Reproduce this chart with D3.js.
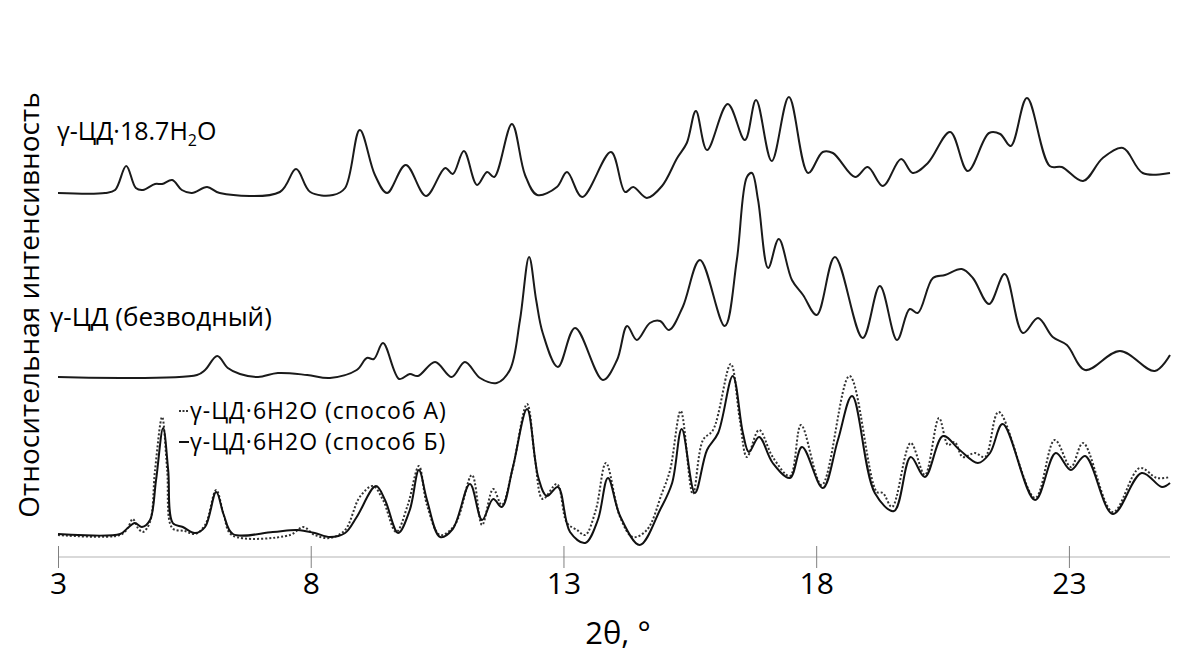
<!DOCTYPE html>
<html><head><meta charset="utf-8">
<script src="https://cdn.jsdelivr.net/npm/d3@7"></script>
<style>body{margin:0;background:#fff}svg{display:block}text{font-family:"Open Sans",sans-serif;fill:#000}</style>
</head><body><svg id="c" width="1189" height="666"></svg>
<script>
// 2θ ticks
const tickValues = [3, 8, 13, 18, 23];
const xLabel = "2θ, °";
const yLabel = "Относительная интенсивность";
const seriesNames = ["γ-ЦД·18.7H2O", "γ-ЦД (безводный)", "γ-ЦД·6H2O (способ А)", "γ-ЦД·6H2O (способ Б)"];

// [2θ, intensity (stacked, arb. units)]
const hydrate187 = [[3.00,364],[3.93,364],[4.13,367],[4.35,391],[4.54,369],[4.68,367],[4.92,373],[5.06,373],[5.26,377],[5.45,367],[5.65,364],[5.95,370],[6.20,364],[7.39,365],[7.71,388],[7.99,365],[8.44,362],[8.68,369],[8.97,427],[9.27,382],[9.51,364],[9.88,392],[10.28,361],[10.66,389],[10.81,383],[11.03,406],[11.29,372],[11.49,385],[11.63,380],[11.98,433],[12.24,382],[12.48,362],[12.87,370],[13.07,385],[13.37,360],[13.94,405],[14.22,365],[14.38,370],[14.65,359],[14.95,371],[15.25,399],[15.44,414],[15.62,446],[15.84,407],[16.25,453],[16.59,417],[16.81,457],[17.12,396],[17.46,460],[17.84,384],[18.13,405],[18.33,404],[18.77,380],[19.02,390],[19.32,371],[19.68,398],[19.91,384],[20.21,394],[20.65,425],[21.00,386],[21.42,424],[21.64,423],[21.85,411],[22.17,459],[22.62,391],[22.86,390],[23.28,376],[23.67,399],[24.07,409],[24.46,384],[25.00,384]];

const anhydrous = [[3.00,180],[5.75,182],[5.91,187],[6.15,201],[6.36,189],[6.60,183],[6.96,180],[7.35,184],[7.93,182],[8.38,179],[8.91,187],[9.11,199],[9.25,198],[9.43,214],[9.75,178],[9.96,183],[10.12,181],[10.46,195],[10.79,180],[11.05,195],[11.35,179],[11.68,174],[11.94,187],[12.14,237],[12.32,300],[12.46,257],[12.59,224],[12.89,190],[13.23,229],[13.78,177],[14.06,197],[14.26,231],[14.45,217],[14.71,234],[14.91,236],[15.09,227],[15.36,250],[15.70,297],[16.19,231],[16.43,297],[16.63,380],[16.73,384],[16.85,357],[17.05,289],[17.26,318],[17.52,277],[17.74,262],[18.01,242],[18.37,300],[18.92,219],[19.26,271],[19.60,217],[19.85,248],[20.01,244],[20.31,279],[20.55,282],[20.88,288],[21.10,279],[21.42,253],[21.73,283],[22.09,224],[22.39,239],[22.68,220],[22.96,212],[23.32,187],[24.01,206],[24.70,186],[25.00,202]];

const methodA = [[3.00,22],[4.23,22],[4.38,29],[4.48,38],[4.58,29],[4.68,25],[4.82,35],[4.92,87],[5.06,140],[5.16,87],[5.26,29],[5.51,26],[5.71,23],[5.91,32],[6.13,67],[6.28,42],[6.44,22],[7.59,22],[7.85,30],[8.08,22],[8.38,19],[8.68,27],[8.97,60],[9.23,71],[9.43,57],[9.69,25],[9.92,52],[10.14,91],[10.30,52],[10.56,22],[10.85,32],[11.19,82],[11.39,32],[11.61,68],[11.78,52],[11.98,85],[12.28,153],[12.44,97],[12.59,58],[12.87,73],[13.07,34],[13.27,27],[13.43,22],[13.64,47],[13.84,94],[14.12,40],[14.37,20],[14.65,27],[14.95,64],[15.11,87],[15.32,146],[15.56,63],[15.76,117],[15.96,127],[16.31,193],[16.49,137],[16.63,100],[16.87,127],[17.14,100],[17.48,81],[17.70,132],[18.11,72],[18.66,181],[19.20,65],[19.32,64],[19.50,50],[19.87,114],[20.15,82],[20.43,139],[20.61,112],[20.74,115],[20.90,100],[21.14,104],[21.34,100],[21.61,145],[22.33,59],[22.72,117],[23.04,90],[23.28,114],[23.87,45],[24.40,89],[24.74,79],[25.00,80]];

const methodB = [[3.00,23],[4.23,23],[4.38,29],[4.52,34],[4.66,30],[4.82,37],[4.94,77],[5.08,129],[5.18,87],[5.27,34],[5.47,30],[5.71,24],[5.91,30],[6.13,65],[6.28,42],[6.46,23],[7.25,25],[7.73,27],[8.08,24],[8.38,20],[8.68,24],[8.91,40],[9.29,71],[9.47,57],[9.73,24],[9.96,47],[10.14,87],[10.30,57],[10.56,20],[10.81,28],[11.15,73],[11.39,37],[11.61,58],[11.78,50],[12.00,90],[12.28,148],[12.50,80],[12.67,61],[12.89,70],[13.13,25],[13.43,14],[13.68,37],[13.88,79],[14.12,41],[14.51,12],[14.91,47],[15.15,74],[15.34,128],[15.60,64],[15.84,107],[16.06,124],[16.35,181],[16.55,124],[16.67,105],[16.87,120],[17.14,94],[17.48,79],[17.72,110],[18.13,69],[18.43,117],[18.71,161],[19.16,64],[19.54,46],[19.87,100],[20.15,80],[20.51,121],[20.84,107],[21.20,94],[21.44,104],[21.69,133],[22.33,57],[22.74,104],[23.04,87],[23.32,101],[23.87,43],[24.44,84],[24.84,70],[25.00,74]];

const svg = d3.select("#c");
const x = d3.scaleLinear().domain([3, 25]).range([58, 1170]);
const y = d3.scaleLinear().domain([0, 500]).range([557, 57]);

const line = d3.line().x(d => x(d[0])).y(d => y(d[1])).curve(d3.curveCatmullRom.alpha(0.5));

// axis
const ax = svg.append("g").attr("transform", "translate(0,557)");
ax.append("line").attr("x1", x(3)).attr("x2", x(25)).attr("stroke", "#d9d9d9").attr("stroke-width", 2);
const xAxis = d3.axisBottom(x).tickValues(tickValues).tickSize(11).tickSizeOuter(0).tickPadding(3);
const axg = ax.append("g").call(xAxis);
axg.select(".domain").remove();
axg.selectAll(".tick line").attr("y1", -11).attr("stroke", "#808080").attr("stroke-width", 1);
axg.selectAll(".tick text").attr("font-family", "Open Sans").attr("font-size", 30).attr("fill", "#000").attr("dy", "0.75em");

svg.append("text").attr("x", 618).attr("y", 644).attr("text-anchor", "middle").attr("font-size", 31).text(xLabel);
svg.append("text").attr("transform", "translate(39,305) rotate(-90)").attr("text-anchor", "middle").attr("font-size", 28).text(yLabel);

// curves
svg.append("path").datum(methodA).attr("d", line).attr("fill", "none").attr("stroke", "#333").attr("stroke-width", 2).attr("stroke-dasharray", "2,2");
svg.append("path").datum(methodB).attr("d", line).attr("fill", "none").attr("stroke", "#111").attr("stroke-width", 2);
svg.append("path").datum(anhydrous).attr("d", line).attr("fill", "none").attr("stroke", "#1a1a1a").attr("stroke-width", 2);
svg.append("path").datum(hydrate187).attr("d", line).attr("fill", "none").attr("stroke", "#1a1a1a").attr("stroke-width", 2);

// series labels
const t1 = svg.append("text").attr("x", 57).attr("y", 140).attr("font-size", 25);
t1.append("tspan").text("γ-ЦД·18.7H");
t1.append("tspan").attr("font-size", 16).attr("dy", 6).text("2");
t1.append("tspan").attr("dy", -6).text("O");
svg.append("text").attr("x", 50).attr("y", 326).attr("font-size", 26).text(seriesNames[1]);

// legend
svg.append("line").attr("x1", 179).attr("x2", 189).attr("y1", 411).attr("y2", 411).attr("stroke", "#333").attr("stroke-width", 2).attr("stroke-dasharray", "2,1.5");
svg.append("text").attr("x", 190).attr("y", 419).attr("font-size", 23).attr("letter-spacing", 1).text(seriesNames[2]);
svg.append("line").attr("x1", 179).attr("x2", 189).attr("y1", 442).attr("y2", 442).attr("stroke", "#111").attr("stroke-width", 2);
svg.append("text").attr("x", 190).attr("y", 450).attr("font-size", 23).attr("letter-spacing", 1).text(seriesNames[3]);
</script></body></html>
